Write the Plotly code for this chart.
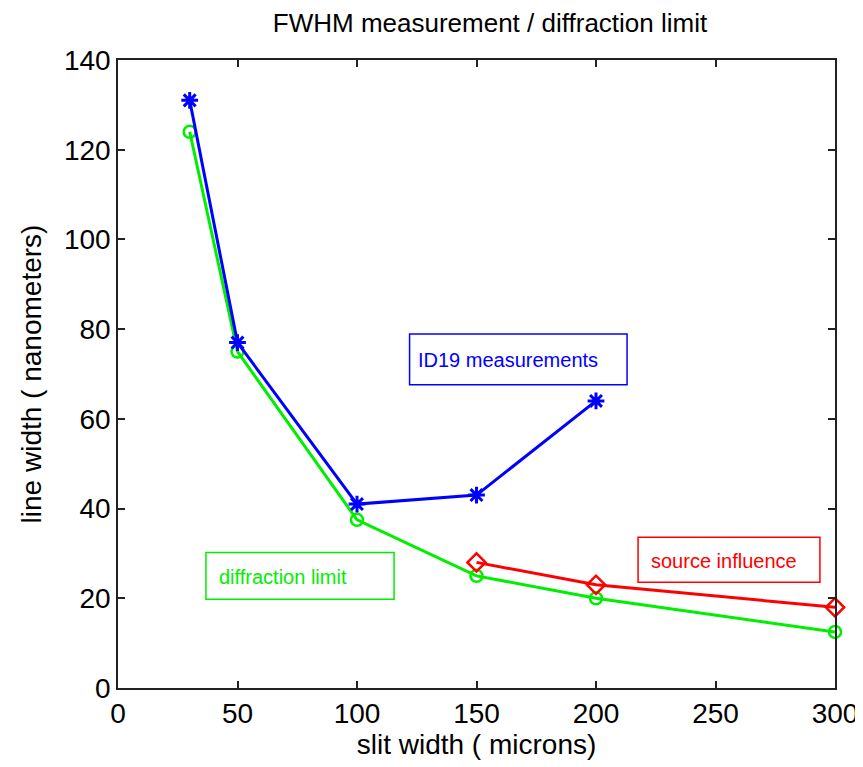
import plotly.graph_objects as go

x_meas = [30, 50, 100, 150, 200]
y_meas = [131, 77, 41, 43, 64]
x_diff = [30, 50, 100, 150, 200, 300]
y_diff = [124, 75, 37.5, 25, 20, 12.5]
x_src = [150, 200, 300]
y_src = [28, 23, 18]

FONT = "Liberation Sans, Arial, sans-serif"

fig = go.Figure()
fig.add_trace(go.Scatter(x=x_diff, y=y_diff, mode="lines+markers", cliponaxis=False,
                         line=dict(color="#00ee00", width=3),
                         marker=dict(symbol="circle-open", size=12, color="#00ee00", line=dict(width=2.5))))
fig.add_trace(go.Scatter(x=x_src, y=y_src, mode="lines+markers", cliponaxis=False,
                         line=dict(color="#ff0000", width=3),
                         marker=dict(symbol="diamond-open", size=14, color="#ff0000", line=dict(width=2.5))))
fig.add_trace(go.Scatter(x=x_meas, y=y_meas, mode="lines+markers", cliponaxis=False,
                         line=dict(color="#0000ff", width=3),
                         marker=dict(symbol="asterisk-open", size=14, color="#0000ff", line=dict(width=3, color="#0000ff"))))

boxes = [
    (122, 213, 67.6, 78.9, "#0000ff", "ID19 measurements", 124.5, 73.2),
    (36.8, 115.5, 19.8, 30.2, "#00ee00", "diffraction limit", 41.3, 24.7),
    (217.6, 293.7, 23.6, 33.6, "#ff0000", "source influence", 222.3, 28.4),
]
for x0, x1, y0, y1, c, t, tx, ty in boxes:
    fig.add_shape(type="rect", x0=x0, x1=x1, y0=y0, y1=y1, xref="x", yref="y",
                  line=dict(color=c, width=1.5), fillcolor="white", layer="above")
    fig.add_annotation(x=tx, y=ty, xref="x", yref="y", text=t, showarrow=False,
                       xanchor="left", yanchor="middle",
                       font=dict(family=FONT, size=20, color=c))

axis_common = dict(showgrid=False, zeroline=False, showline=True, linecolor="#222222",
                   linewidth=1.5, mirror="ticks", ticks="inside", ticklen=7,
                   tickcolor="#222222", tickwidth=1.5, automargin=False,
                   tickfont=dict(family=FONT, size=28, color="black"))
fig.update_xaxes(range=[0, 300], tickvals=[0, 50, 100, 150, 200, 250, 300],
                 title=dict(text="slit width ( microns)", font=dict(family=FONT, size=28, color="black"), standoff=2),
                 **axis_common)
fig.update_yaxes(range=[0, 140], tickvals=[0, 20, 40, 60, 80, 100, 120, 140],
                 title=dict(text="line width ( nanometers)", font=dict(family=FONT, size=28, color="black"), standoff=14),
                 **axis_common)

fig.update_layout(
    width=855, height=759,
    margin=dict(l=110, r=28, t=52, b=79),
    paper_bgcolor="white", plot_bgcolor="white",
    showlegend=False,
    title=dict(text="FWHM measurement / diffraction limit", x=482/855, xanchor="center",
               y=1 - 15/759, yanchor="middle", font=dict(family=FONT, size=26, color="black"),
               automargin=False),
)
fig.write_html("out.html")
